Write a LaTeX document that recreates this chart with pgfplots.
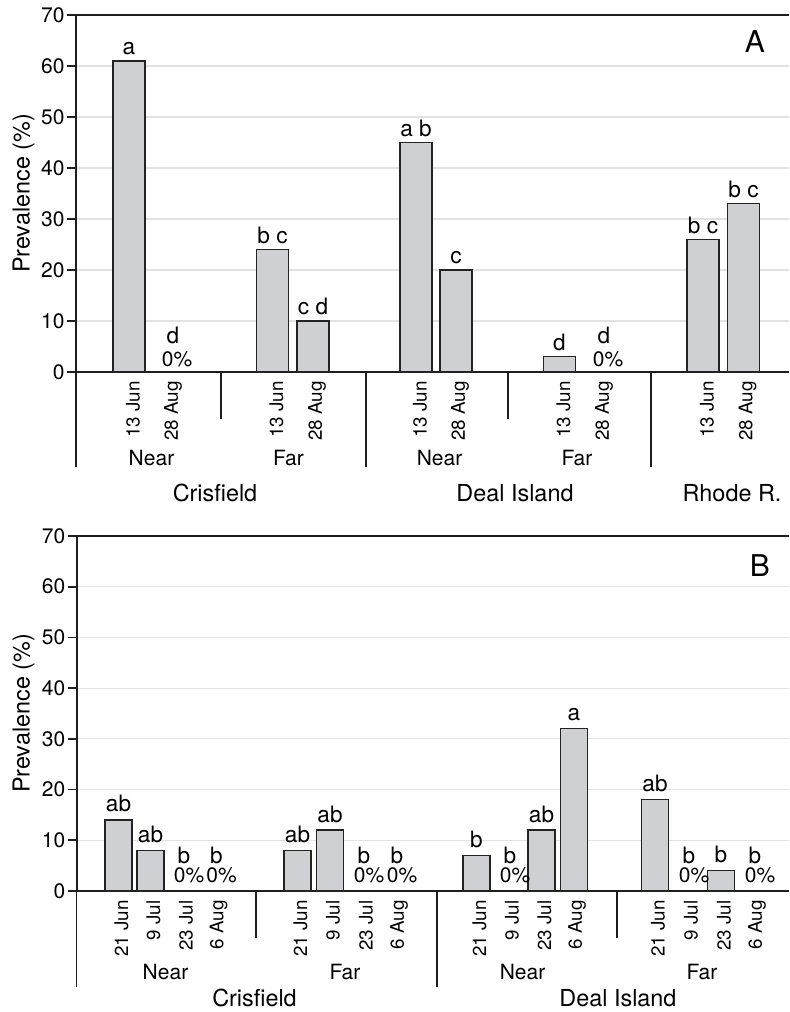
\documentclass[border=0pt]{standalone}
\usepackage{fontspec}
\setmainfont{TeX Gyre Heros}
\usepackage{pgfplots}
\pgfplotsset{compat=1.18}
\definecolor{barfill}{RGB}{207,208,211}
\definecolor{baredge}{RGB}{35,35,35}
\definecolor{axline}{RGB}{30,30,30}
\definecolor{gridc}{RGB}{226,226,226}
\newcommand{\fs}[1]{\fontsize{#1}{#1}\selectfont}
\pgfplotsset{
 panel/.style={
   scale only axis, axis lines*=left, enlargelimits=false, clip=false,
   ymin=0, ymax=70, ytick={0,10,...,70},
   tick align=outside, major tick length=4.5pt,
   ymajorgrids, grid style={gridc, line width=0.6pt},
   axis line style={axline, line width=1pt},
   ytick style={axline, line width=0.8pt},
   xtick style={draw=none},
   /pgf/number format/assume math mode=true,
   yticklabel style={font=\fs{10.5}, inner sep=0pt, xshift=-1pt},
   xticklabel style={font=\fs{9.4}, rotate=90, anchor=east, inner sep=0pt},
   ylabel={Prevalence (\%)},
   ylabel style={font=\fs{11.7}, anchor=south, inner sep=0pt},
   nodes near coords style={font=\fs{11.3}, anchor=south, inner sep=0pt},
 },
 mybar/.style={ybar, fill=barfill, draw=baredge, line width=0.7pt, nodes near coords, point meta=explicit symbolic},
}
\begin{document}
\begin{tikzpicture}
\useasboundingbox (0,0) rectangle (394.5pt,506pt);
% ---------------- Panel A ----------------
\begin{axis}[panel, at={(38pt,320pt)}, anchor=south west, width=356.5pt, height=178.5pt,
  xmin=76, xmax=789,
  ylabel style={at={(axis description cs:-0.0575,0.5)}},
  nodes near coords style={yshift=2.5pt},
  xtick={129,169,272.5,313,416,456,559.5,600,703,743.5},
  xticklabels={13 Jun,28 Aug,13 Jun,28 Aug,13 Jun,28 Aug,13 Jun,28 Aug,13 Jun,28 Aug},
  xticklabel style={yshift=-2pt}]
\addplot[mybar, bar width=32] coordinates {(129,61) [a] (272.5,24) [b c] (313,10) [c d] (416,45) [a b] (456,20) [c] (559.5,3) [d] (703,26) [b c] (743.5,33) [b c]};
\addplot[ybar, bar width=32, draw=none, fill=none] coordinates {(169,0) (600,0)};
\node[font=\fs{11.3}, anchor=base, yshift=14.25pt] at (axis cs:173,0) {d};
\node[font=\fs{10.5}, anchor=base, yshift=2.6pt] at (axis cs:177,0) {0\%};
\node[font=\fs{11.3}, anchor=base, yshift=14.25pt] at (axis cs:604,0) {d};
\node[font=\fs{10.5}, anchor=base, yshift=2.6pt] at (axis cs:608,0) {0\%};
\draw[axline, line width=1pt] (axis cs:76,70) -- (axis cs:789,70);
\node[font=\fs{15}, anchor=base east] at (axis cs:772,62.55) {A};
\draw[axline, line width=0.7pt] (axis cs:76,0) -- ++(0pt,-47.5pt);
\draw[axline, line width=0.7pt] (axis cs:366,0) -- ++(0pt,-47.5pt);
\draw[axline, line width=0.7pt] (axis cs:651,0) -- ++(0pt,-47.5pt);
\draw[axline, line width=0.7pt] (axis cs:221,0) -- ++(0pt,-23.5pt);
\draw[axline, line width=0.7pt] (axis cs:508,0) -- ++(0pt,-23.5pt);
\node[font=\fs{10.5}, anchor=base, yshift=-47pt] at (axis cs:151.5,0) {Near};
\node[font=\fs{10.5}, anchor=base, yshift=-47pt] at (axis cs:288.5,0) {Far};
\node[font=\fs{10.5}, anchor=base, yshift=-47pt] at (axis cs:439.5,0) {Near};
\node[font=\fs{10.5}, anchor=base, yshift=-47pt] at (axis cs:577,0) {Far};
\node[font=\fs{11.7}, anchor=base, yshift=-65pt] at (axis cs:215,0) {Crisfield};
\node[font=\fs{11.7}, anchor=base, yshift=-65pt] at (axis cs:515,0) {Deal Island};
\node[font=\fs{11.7}, anchor=base, yshift=-65pt] at (axis cs:732,0) {Rhode R.};
\end{axis}
% ---------------- Panel B ----------------
\begin{axis}[panel, at={(38.35pt,60.5pt)}, anchor=south west, width=356.15pt, height=177.5pt,
  xmin=76.7, xmax=789,
  ylabel style={at={(axis description cs:-0.0585,0.5)}},
  nodes near coords style={yshift=3.5pt},
  xtick={118.5,150.5,183,215.5,297.5,330,363,396,476.5,509,541.5,574,655,688,721,754},
  xticklabels={21 Jun,9 Jul,23 Jul,6 Aug,21 Jun,9 Jul,23 Jul,6 Aug,21 Jun,9 Jul,23 Jul,6 Aug,21 Jun,9 Jul,23 Jul,6 Aug},
  xticklabel style={yshift=-1.5pt}]
\addplot[mybar, bar width=27] coordinates {(118.5,14) [ab] (150.5,8) [ab] (297.5,8) [ab] (330,12) [ab] (476.5,7) [b] (541.5,12) [ab] (574,32) [a] (655,18) [ab] (721,4) [b]};
\addplot[ybar, bar width=27, draw=none, fill=none] coordinates {(183,0) (215.5,0) (363,0) (396,0) (509,0) (688,0) (754,0)};
\foreach \xx in {183,215.5,363,396,509,688,754}{
  \edef\temp{\noexpand\node[font=\noexpand\fs{11.3}, anchor=base, yshift=13.8pt] at (axis cs:\xx+1,0) {b};
  \noexpand\node[font=\noexpand\fs{10.5}, anchor=base, yshift=4pt] at (axis cs:\xx+6,0) {0\noexpand\%};}
  \temp
}
\draw[axline, line width=1pt] (axis cs:76.7,70) -- (axis cs:789,70);
\node[font=\fs{15}, anchor=base east] at (axis cs:777,62.1) {B};
\draw[axline, line width=0.7pt] (axis cs:76.7,0) -- ++(0pt,-48pt);
\draw[axline, line width=0.7pt] (axis cs:437,0) -- ++(0pt,-48pt);
\draw[axline, line width=0.7pt] (axis cs:256,0) -- ++(0pt,-23.5pt);
\draw[axline, line width=0.7pt] (axis cs:617,0) -- ++(0pt,-23.5pt);
\node[font=\fs{10.5}, anchor=base, yshift=-44.5pt] at (axis cs:165.5,0) {Near};
\node[font=\fs{10.5}, anchor=base, yshift=-44.5pt] at (axis cs:345,0) {Far};
\node[font=\fs{10.5}, anchor=base, yshift=-44.5pt] at (axis cs:522.5,0) {Near};
\node[font=\fs{10.5}, anchor=base, yshift=-44.5pt] at (axis cs:702,0) {Far};
\node[font=\fs{11.7}, anchor=base, yshift=-57.8pt] at (axis cs:254.5,0) {Crisfield};
\node[font=\fs{11.7}, anchor=base, yshift=-57.8pt] at (axis cs:618,0) {Deal Island};
\end{axis}
\end{tikzpicture}
\end{document}
